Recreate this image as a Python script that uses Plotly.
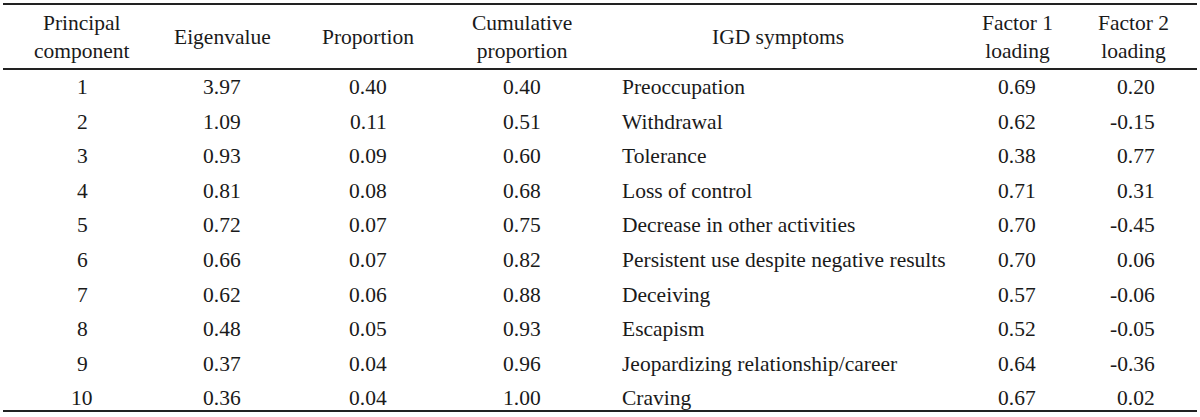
import plotly.graph_objects as go

components = ["1", "2", "3", "4", "5", "6", "7", "8", "9", "10"]
eigenvalues = ["3.97", "1.09", "0.93", "0.81", "0.72", "0.66", "0.62", "0.48", "0.37", "0.36"]
proportions = ["0.40", "0.11", "0.09", "0.08", "0.07", "0.07", "0.06", "0.05", "0.04", "0.04"]
cumulative = ["0.40", "0.51", "0.60", "0.68", "0.75", "0.82", "0.88", "0.93", "0.96", "1.00"]
symptoms = ["Preoccupation", "Withdrawal", "Tolerance", "Loss of control",
            "Decrease in other activities", "Persistent use despite negative results",
            "Deceiving", "Escapism", "Jeopardizing relationship/career", "Craving"]
factor1 = ["0.69", "0.62", "0.38", "0.71", "0.70", "0.70", "0.57", "0.52", "0.64", "0.67"]
factor2 = ["0.20", "-0.15", "0.77", "0.31", "-0.45", "0.06", "-0.06", "-0.05", "-0.36", "0.02"]
headers = ["Principal<br>component", "Eigenvalue", "Proportion", "Cumulative<br>proportion",
           "IGD symptoms", "Factor 1<br>loading", "Factor 2<br>loading"]

FONT = dict(family="Liberation Serif, Times New Roman, serif", size=21.5, color="#1a1a1a")
W, H = 1200, 417
row0, dy = 87, 34.6
header_y = 37

col_x = [82, 222, 368, 522, 778, 1017, 1133]
columns = [components, eigenvalues, proportions, cumulative, symptoms, factor1, factor2]
data_align = [("center", 82), ("center", 222), ("center", 368), ("center", 522),
              ("left", 620), ("center", 1017), ("right", 1157)]

fig = go.Figure()
fig.add_trace(go.Scatter(x=[0, W], y=[0, H], mode="markers", marker=dict(opacity=0),
                         hoverinfo="skip", showlegend=False))

ann = []
for h, x in zip(headers, col_x):
    ann.append(dict(x=x, y=header_y, text=h, showarrow=False, xanchor="center",
                    yanchor="middle", font=FONT, align="center"))
for col, (al, x) in zip(columns, data_align):
    for i, v in enumerate(col):
        ann.append(dict(x=x, y=row0 + dy * i, text=v, showarrow=False, xanchor=al,
                        yanchor="middle", font=FONT, align=al))

shapes = []
for y, w in [(4, 2), (69, 2), (411, 2)]:
    shapes.append(dict(type="line", x0=3, x1=1197, y0=y, y1=y,
                       line=dict(color="#222222", width=w)))

fig.update_layout(
    width=W, height=H, margin=dict(l=0, r=0, t=0, b=0),
    paper_bgcolor="white", plot_bgcolor="white",
    xaxis=dict(range=[0, W], visible=False, fixedrange=True),
    yaxis=dict(range=[H, 0], visible=False, fixedrange=True),
    annotations=ann, shapes=shapes, showlegend=False,
)
fig.write_html("out.html", config={"displayModeBar": False},
               post_script="document.body.style.margin='0';document.body.style.overflow='hidden';")
